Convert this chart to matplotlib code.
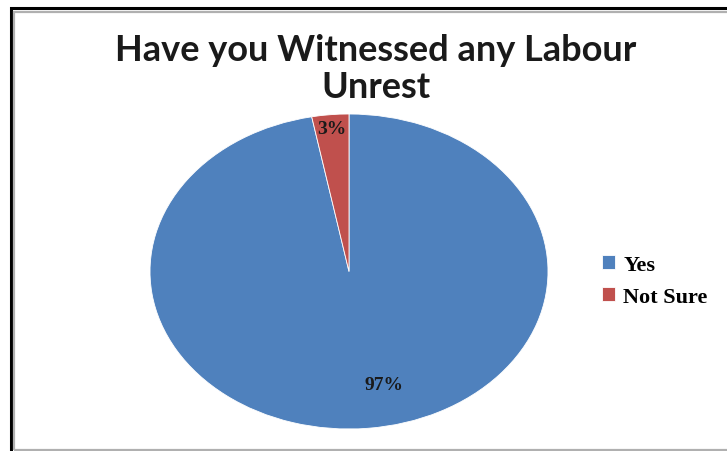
import numpy as np
import matplotlib.pyplot as plt
from matplotlib.patches import Rectangle

# data
labels = ['Yes', 'Not Sure']
values = [97, 3]
colors = ['#4F81BD', '#C0504D']
title = 'Have you Witnessed any Labour\nUnrest'

W, H = 727, 452
fig = plt.figure(figsize=(W / 100, H / 100), dpi=100)
fig.patch.set_facecolor('white')

# frame: black outer line and grey inner line (top/left visible)
fig.patches.append(Rectangle((11 / W, -0.05), 1.1, (H - 9) / H + 0.05,
                             transform=fig.transFigure, fill=False,
                             edgecolor='black', linewidth=2.2))
fig.patches.append(Rectangle((14.5 / W, 1 / H), 1.1, (H - 14) / H,
                             transform=fig.transFigure, fill=False,
                             edgecolor='#b0b0b0', linewidth=1.6))

# pie axes, stretched into an ellipse
ax = fig.add_axes([150 / W, (H - 430) / H, 398 / W, 315 / H])
wedges, _ = ax.pie(values, colors=colors, startangle=90, counterclock=False,
                   wedgeprops=dict(linewidth=0.6, edgecolor='white'))
ax.set_aspect('auto')
ax.set_xlim(-1, 1)
ax.set_ylim(-1, 1)
ax.axis('off')

# percentage labels
dists = [0.72, 0.91]
xshift = [0.11, 0.0]
for w, v, d, dx in zip(wedges, values, dists, xshift):
    ang = np.deg2rad((w.theta1 + w.theta2) / 2)
    ax.text(d * np.cos(ang) + dx, d * np.sin(ang), f'{v}%', ha='center',
            va='center', fontsize=14, fontweight='bold',
            family='Liberation Serif', color='#1a1a1a')

fig.text(376 / W, 1 - 69 / H, title, ha='center', va='center',
         fontsize=26, fontweight='bold', family='Lato', color='#1a1a1a',
         linespacing=1.15)

leg = fig.legend(wedges, labels, loc='center left',
                 bbox_to_anchor=(591 / W, 1 - 282 / H),
                 frameon=False, handlelength=0.6, handleheight=0.6,
                 handletextpad=0.35, labelspacing=0.55, borderpad=0,
                 prop=dict(family='Liberation Serif', weight='bold', size=16))

fig.savefig('out.png', dpi=100)
